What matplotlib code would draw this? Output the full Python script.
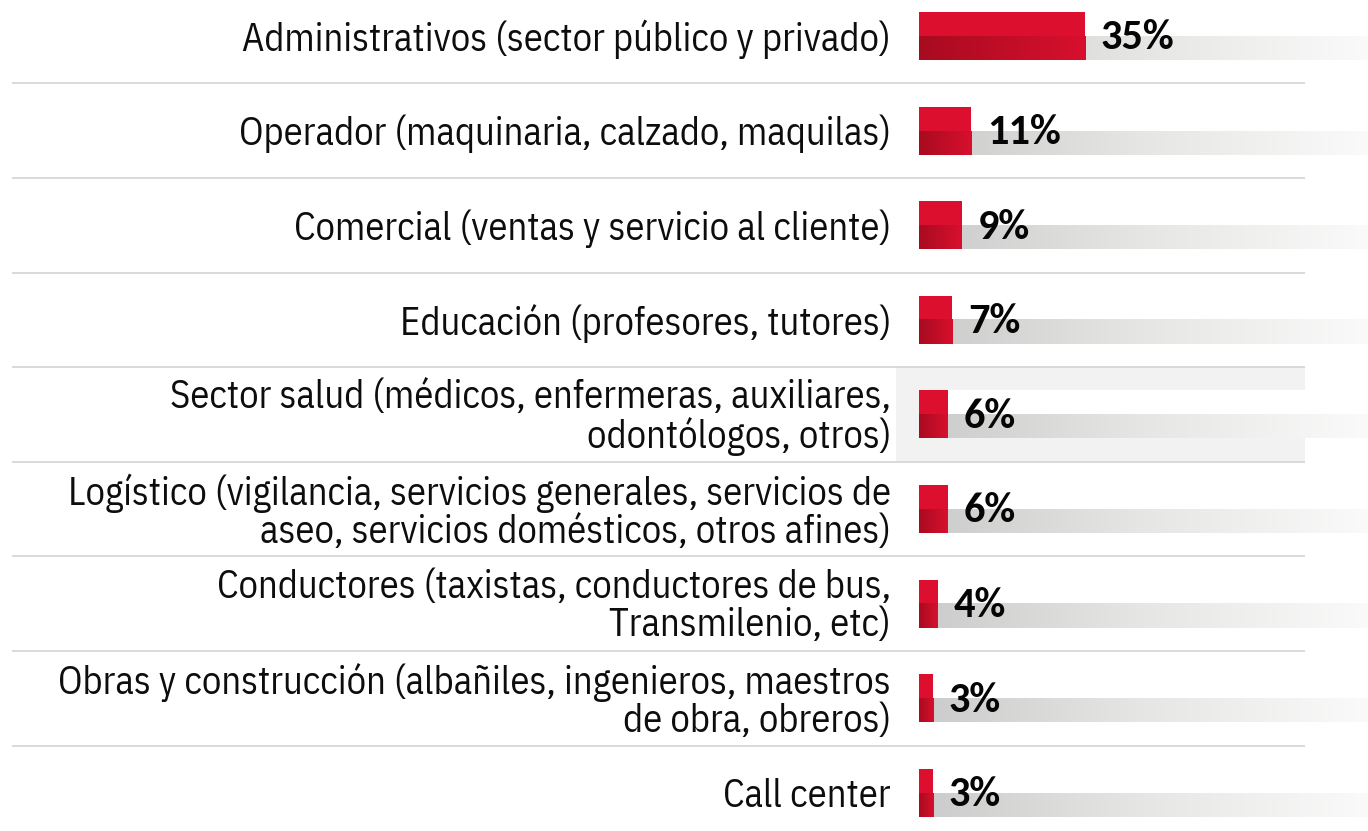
import numpy as np
import matplotlib
matplotlib.use("Agg")
import matplotlib.pyplot as plt
from matplotlib.colors import LinearSegmentedColormap

categories = [
    "Administrativos (sector público y privado)",
    "Operador (maquinaria, calzado, maquilas)",
    "Comercial (ventas y servicio al cliente)",
    "Educación (profesores, tutores)",
    "Sector salud (médicos, enfermeras, auxiliares,\nodontólogos, otros)",
    "Logístico (vigilancia, servicios generales, servicios de\naseo, servicios domésticos, otros afines)",
    "Conductores (taxistas, conductores de bus,\nTransmilenio, etc)",
    "Obras y construcción (albañiles, ingenieros, maestros\nde obra, obreros)",
    "Call center",
]
values = [35, 11, 9, 7, 6, 6, 4, 3, 3]
value_labels = ["35%", "11%", "9%", "7%", "6%", "6%", "4%", "3%", "3%"]
highlight_row = 4

LABEL_FONT = ["IBM Plex Sans Condensed", "Archivo Narrow", "DejaVu Sans"]
VALUE_FONT = ["Carlito", "Lato", "DejaVu Sans"]

W, H = 1368, 831
PX_PER_UNIT = 4.75      # horizontal pixels per percentage point
BAR_X0 = 919            # pixel where bars start
ROW0, ROW_STEP = 36, 94.6
BAR_H = 48 / ROW_STEP
LABEL_W = 650           # width of the first category label, px

def px_x(p):
    return (p - BAR_X0) / PX_PER_UNIT

fig = plt.figure(figsize=(W / 100, H / 100), dpi=100)
ax = fig.add_axes([0, 0, 1, 1])
ax.set_axis_off()
renderer = fig.canvas.get_renderer()

# size the category font so the first label spans LABEL_W pixels
probe = fig.text(0, 0, categories[0], fontsize=24, family=LABEL_FONT)
label_size = 24 * LABEL_W / probe.get_window_extent(renderer).width
probe.remove()

xmin, xmax = px_x(0), px_x(W)
ymin, ymax = -ROW0 / ROW_STEP, (H - ROW0) / ROW_STEP

red_top = "#dc102e"
red_cmap = LinearSegmentedColormap.from_list("redgrad", ["#a80b20", "#d8102d"])
gray_cmap = LinearSegmentedColormap.from_list("graygrad", ["#cbcbcb", "#e6e6e4", "#fafafa"])
grad = np.linspace(0, 1, 256).reshape(1, -1)

sep_x0, sep_x1 = px_x(12), px_x(1305)

# highlighted row band
hb = highlight_row
ax.add_patch(plt.Rectangle((px_x(896), hb - 0.5), sep_x1 - px_x(896), 1.0,
                           facecolor="#f2f2f2", edgecolor="none", zorder=0))

# separators between rows
for i in range(len(categories) - 1):
    ax.plot([sep_x0, sep_x1], [i + 0.5, i + 0.5], color="#d9d9d9", lw=1.4,
            solid_capstyle="butt", zorder=1)

for i, (v, lab, vl) in enumerate(zip(values, categories, value_labels)):
    top = i - BAR_H / 2
    # background track: white upper half, gray fading lower half
    ax.add_patch(plt.Rectangle((0, top), xmax, BAR_H / 2, facecolor="white",
                               edgecolor="none", zorder=2))
    ax.imshow(grad, cmap=gray_cmap, aspect="auto", extent=(0, xmax, i + BAR_H / 2, i),
              zorder=2, interpolation="bilinear")
    # red bar: flat upper half, darker gradient lower half
    ax.add_patch(plt.Rectangle((0, top), v, BAR_H / 2, facecolor=red_top,
                               edgecolor="none", zorder=3))
    ax.imshow(grad, cmap=red_cmap, aspect="auto", extent=(0, v, i + BAR_H / 2, i),
              zorder=3, interpolation="bilinear")
    # category label
    ax.text(px_x(891), i + 0.035, lab, ha="right", va="center", fontsize=label_size,
            family=LABEL_FONT, color="#0d0d0d", linespacing=1.03, zorder=4)
    # value label
    ax.text(v + 3.3, i + 0.02, vl, ha="left", va="center", fontsize=30.5,
            fontweight="bold", family=VALUE_FONT, color="#050505", zorder=4)

ax.set_xlim(xmin, xmax)
ax.set_ylim(ymax, ymin)

fig.savefig("out.png", dpi=100, facecolor="white")
